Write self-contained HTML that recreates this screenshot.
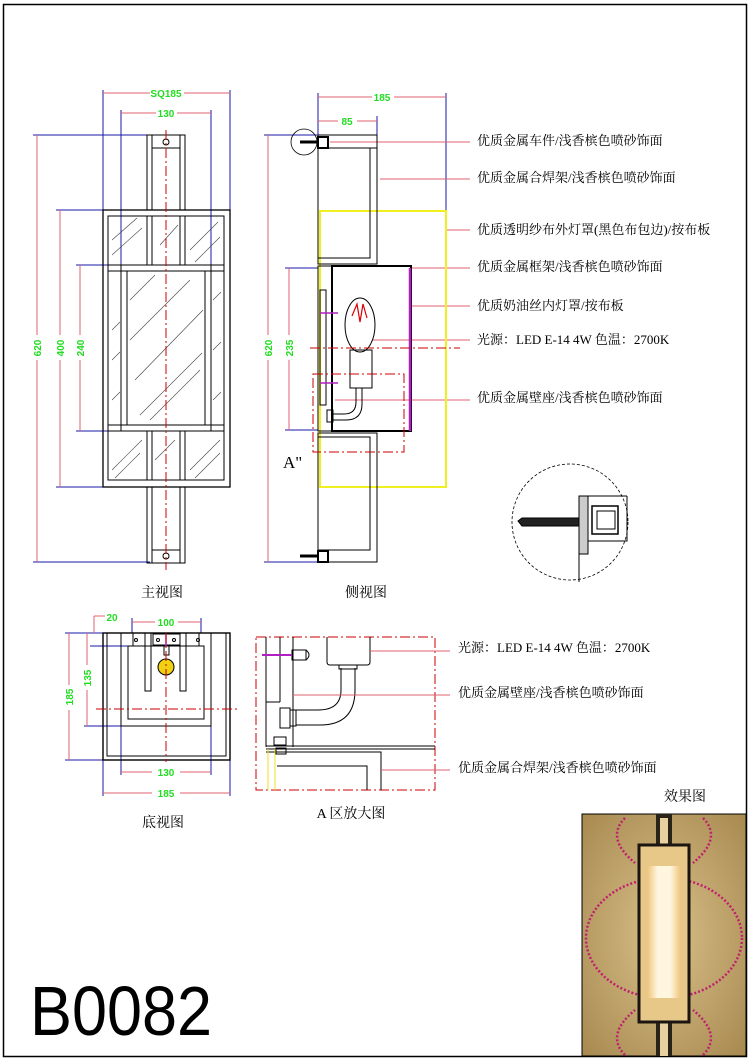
<!DOCTYPE html>
<html><head><meta charset="utf-8"><style>
html,body{margin:0;padding:0;background:#fff;}
svg{display:block;}
.t{font-family:"Liberation Serif","Noto Serif CJK SC",serif;font-size:13px;fill:#000;}
.g{font-family:"Liberation Sans",sans-serif;font-size:10px;fill:#22dd22;font-weight:bold;}
</style></head><body>
<svg width="750" height="1060" viewBox="0 0 750 1060" xmlns="http://www.w3.org/2000/svg">
<rect x="3.5" y="4.5" width="743" height="1052" fill="none" stroke="#000" stroke-width="1.5"/>

<!-- FRONT VIEW -->
<g fill="none" stroke-width="1">
<g stroke="#1a1aa8">
<line x1="103" y1="90" x2="103" y2="210"/><line x1="230" y1="90" x2="230" y2="210"/>
<line x1="121" y1="110" x2="121" y2="265"/><line x1="211" y1="110" x2="211" y2="265"/>
<line x1="33" y1="135" x2="150" y2="135"/><line x1="33" y1="562" x2="150" y2="562"/>
<line x1="56" y1="210" x2="103" y2="210"/><line x1="56" y1="487" x2="103" y2="487"/>
<line x1="76" y1="265" x2="121" y2="265"/><line x1="76" y1="431" x2="121" y2="431"/>
</g>
<g stroke="#e06070">
<line x1="103" y1="93" x2="150" y2="93"/><line x1="184" y1="93" x2="230" y2="93"/>
<line x1="121" y1="113" x2="156" y2="113"/><line x1="177" y1="113" x2="211" y2="113"/>
<line x1="37" y1="135" x2="37" y2="335"/><line x1="37" y1="360" x2="37" y2="562"/>
<line x1="60" y1="210" x2="60" y2="335"/><line x1="60" y1="360" x2="60" y2="487"/>
<line x1="80" y1="265" x2="80" y2="335"/><line x1="80" y1="360" x2="80" y2="431"/>
</g>
<text class="g" x="166" y="97" text-anchor="middle">SQ185</text>
<text class="g" x="166" y="117" text-anchor="middle">130</text>
<text class="g" transform="translate(41,348) rotate(-90)" text-anchor="middle">620</text>
<text class="g" transform="translate(64,348) rotate(-90)" text-anchor="middle">400</text>
<text class="g" transform="translate(84,348) rotate(-90)" text-anchor="middle">240</text>
<g stroke="#000">
<rect x="147" y="135" width="38" height="75"/><line x1="152" y1="135" x2="152" y2="210"/><line x1="180" y1="135" x2="180" y2="210"/><line x1="152" y1="148" x2="180" y2="148"/>
<circle cx="166" cy="142" r="3"/>
<rect x="147" y="487" width="38" height="76"/><line x1="152" y1="487" x2="152" y2="563"/><line x1="180" y1="487" x2="180" y2="563"/><line x1="152" y1="550" x2="180" y2="550"/>
<circle cx="166" cy="556" r="3"/>
<rect x="103" y="210" width="127" height="277" stroke-width="1.3"/>
<rect x="108" y="216" width="116" height="264"/>
<line x1="147" y1="216" x2="147" y2="265"/><line x1="152" y1="216" x2="152" y2="265"/><line x1="180" y1="216" x2="180" y2="265"/><line x1="185" y1="216" x2="185" y2="265"/>
<line x1="147" y1="431" x2="147" y2="480"/><line x1="152" y1="431" x2="152" y2="480"/><line x1="180" y1="431" x2="180" y2="480"/><line x1="185" y1="431" x2="185" y2="480"/>
<line x1="108" y1="265" x2="224" y2="265"/><line x1="108" y1="271" x2="224" y2="271"/>
<line x1="108" y1="431" x2="224" y2="431"/><line x1="108" y1="425" x2="224" y2="425"/>
<rect x="121" y="265" width="90" height="166"/>
<rect x="127" y="271" width="78" height="154"/>
</g>
<g stroke="#444" stroke-width="0.6">
<path d="M112 240 l25 -22 M112 255 l30 -27 M160 245 l18 -20 M190 250 l28 -28 M195 262 l25 -25 M112 330 l8 -8 M112 360 l8 -8 M112 400 l8 -8 M213 300 l8 -8 M213 350 l8 -8 M213 400 l8 -8 M130 300 l25 -25 M130 340 l60 -60 M135 380 l68 -70 M140 415 l62 -62 M150 420 l50 -50 M112 470 l30 -30 M115 478 l25 -25 M155 460 l20 -20 M190 470 l30 -30 M195 478 l25 -25"/>
</g>
<line x1="166" y1="130" x2="166" y2="570" stroke="#c00" stroke-dasharray="10,3,2,3"/>
</g>

<!-- SIDE VIEW -->
<g fill="none" stroke-width="1">
<g stroke="#1a1aa8">
<line x1="318" y1="93" x2="318" y2="135"/><line x1="446" y1="93" x2="446" y2="212"/><line x1="377" y1="116" x2="377" y2="135"/>
<line x1="264" y1="135" x2="318" y2="135"/><line x1="264" y1="562" x2="318" y2="562"/>
<line x1="285" y1="268" x2="318" y2="268"/><line x1="285" y1="430" x2="318" y2="430"/>
</g>
<g stroke="#e06070">
<line x1="318" y1="97" x2="372" y2="97"/><line x1="394" y1="97" x2="446" y2="97"/>
<line x1="318" y1="121" x2="338" y2="121"/><line x1="357" y1="121" x2="377" y2="121"/>
<line x1="268" y1="135" x2="268" y2="335"/><line x1="268" y1="360" x2="268" y2="562"/>
<line x1="289" y1="268" x2="289" y2="335"/><line x1="289" y1="360" x2="289" y2="430"/>
<line x1="330" y1="142" x2="470" y2="142"/>
<line x1="380" y1="179" x2="470" y2="179"/>
<line x1="446" y1="230" x2="470" y2="230"/>
<line x1="410" y1="268" x2="470" y2="268"/>
<line x1="411" y1="306" x2="470" y2="306"/>
<line x1="372" y1="340" x2="470" y2="340"/>
<line x1="335" y1="400" x2="470" y2="400"/>
</g>
<text class="g" x="382" y="101" text-anchor="middle">185</text>
<text class="g" x="347" y="125" text-anchor="middle">85</text>
<text class="g" transform="translate(272,348) rotate(-90)" text-anchor="middle">620</text>
<text class="g" transform="translate(293,348) rotate(-90)" text-anchor="middle">235</text>
<rect x="320" y="211" width="126" height="276" stroke="#f0f020" stroke-width="2"/>
<g stroke="#000">
<path d="M318 135 H377 V264 H318 Z M318 148 H377 M370 148 V258 H318"/>
<path d="M318 433 H377 V562 H318 Z M318 437 H370 V550 H318"/>
<rect x="318" y="266" width="14" height="165"/>
<rect x="332" y="266" width="79" height="165" stroke-width="2"/>
<rect x="320" y="290" width="6" height="115"/>
<ellipse cx="360" cy="325" rx="15" ry="27"/>
<rect x="350" y="350" width="22" height="38"/>
<path d="M356 388 V402 Q356 414 344 414 H333 M362 388 V404 Q362 420 346 420 H333"/>
<rect x="327" y="410" width="6" height="12"/>
<circle cx="304" cy="142" r="13" stroke-width="0.8"/>
<rect x="318" y="137" width="10" height="11" stroke-width="2"/>
<rect x="318" y="551" width="10" height="11" stroke-width="2"/>
</g>
<path d="M352 316 l5 -12 l3 18 l3 -18 l4 14" stroke="#d00" stroke-width="1.2"/>
<line x1="300" y1="142" x2="318" y2="142" stroke="#000" stroke-width="3"/>
<line x1="300" y1="556" x2="318" y2="556" stroke="#000" stroke-width="3"/>
<line x1="410" y1="268" x2="410" y2="431" stroke="#b020c0" stroke-width="2.5"/>
<line x1="320" y1="313" x2="338" y2="313" stroke="#b020c0" stroke-width="1.5"/>
<line x1="320" y1="383" x2="338" y2="383" stroke="#b020c0" stroke-width="1.5"/>
<rect x="313" y="374" width="91" height="78" stroke="#c00" stroke-dasharray="10,3,2,3"/>
<line x1="310" y1="348" x2="460" y2="348" stroke="#c00" stroke-dasharray="10,3,2,3"/>
</g>
<text x="283" y="468" font-family="Liberation Serif,serif" font-size="17">A"</text>

<text class="t" x="477" y="145">优质金属车件/浅香槟色喷砂饰面</text>
<text class="t" x="477" y="182">优质金属合焊架/浅香槟色喷砂饰面</text>
<text class="t" x="477" y="234">优质透明纱布外灯罩(黑色布包边)/按布板</text>
<text class="t" x="477" y="271">优质金属框架/浅香槟色喷砂饰面</text>
<text class="t" x="477" y="310">优质奶油丝内灯罩/按布板</text>
<text class="t" x="477" y="344">光源：LED E-14 4W 色温：2700K</text>
<text class="t" x="477" y="402">优质金属壁座/浅香槟色喷砂饰面</text>

<!-- detail circle -->
<g fill="none" stroke="#000">
<circle cx="570" cy="522" r="58" stroke-dasharray="3,2" stroke-width="0.8"/>
<rect x="579" y="496" width="9" height="58" fill="#ccc"/>
<path d="M588 496 H627 M588 554 H579 V582 M588 541 H627 V496"/>
<rect x="592" y="506" width="26" height="28" stroke-width="1.5"/>
<rect x="597" y="511" width="18" height="18"/>
<path d="M518 521 L522 518 H579 V526 H522 Z" fill="#222"/>
</g>

<!-- BOTTOM VIEW -->
<g fill="none" stroke-width="1">
<g stroke="#1a1aa8">
<line x1="65" y1="633" x2="103" y2="633"/><line x1="65" y1="760" x2="103" y2="760"/>
<line x1="84" y1="633" x2="103" y2="633"/><line x1="84" y1="726" x2="121" y2="726"/>
<line x1="90" y1="646" x2="128" y2="646"/>
<line x1="132" y1="618" x2="132" y2="633"/><line x1="201" y1="618" x2="201" y2="633"/>
<line x1="121" y1="726" x2="121" y2="775"/><line x1="211" y1="726" x2="211" y2="775"/>
<line x1="103" y1="760" x2="103" y2="796"/><line x1="230" y1="760" x2="230" y2="796"/>
</g>
<g stroke="#e06070">
<line x1="69" y1="633" x2="69" y2="685"/><line x1="69" y1="710" x2="69" y2="760"/>
<line x1="87" y1="633" x2="87" y2="665"/><line x1="87" y1="690" x2="87" y2="726"/>
<line x1="94" y1="616" x2="105" y2="616"/><line x1="94" y1="616" x2="94" y2="633"/>
<line x1="132" y1="622" x2="155" y2="622"/><line x1="178" y1="622" x2="201" y2="622"/>
<line x1="121" y1="772" x2="152" y2="772"/><line x1="180" y1="772" x2="211" y2="772"/>
<line x1="103" y1="793" x2="152" y2="793"/><line x1="180" y1="793" x2="230" y2="793"/>
</g>
<text class="g" x="112" y="621" text-anchor="middle">20</text>
<text class="g" x="166" y="626" text-anchor="middle">100</text>
<text class="g" x="166" y="776" text-anchor="middle">130</text>
<text class="g" x="166" y="797" text-anchor="middle">185</text>
<text class="g" transform="translate(73,697) rotate(-90)" text-anchor="middle">185</text>
<text class="g" transform="translate(91,678) rotate(-90)" text-anchor="middle">135</text>
<g stroke="#000">
<rect x="103" y="633" width="127" height="127" stroke-width="1.4"/>
<rect x="107" y="633" width="119" height="123"/>
<path d="M121 633 V726 H211 V633"/>
<rect x="128" y="646" width="76" height="73"/>
<line x1="133" y1="633" x2="133" y2="646"/><line x1="199" y1="633" x2="199" y2="646"/>
<rect x="145" y="633" width="6" height="58"/><rect x="180" y="633" width="6" height="58"/>
<rect x="153" y="634" width="27" height="11"/>
<circle cx="158" cy="640" r="1.5"/><circle cx="174" cy="640" r="1.5"/><circle cx="136" cy="640" r="1.5"/><circle cx="198" cy="640" r="1.5"/>
<rect x="164" y="645" width="5" height="10"/>
</g>
<line x1="166" y1="635" x2="166" y2="646" stroke="#b020c0" stroke-width="1.5"/>
<circle cx="166" cy="667" r="8" fill="#f0d010" stroke="#000"/>
<line x1="96" y1="709" x2="238" y2="709" stroke="#c00" stroke-dasharray="10,3,2,3"/>
<line x1="166" y1="633" x2="166" y2="762" stroke="#c00" stroke-dasharray="10,3,2,3"/>
</g>

<!-- DETAIL A -->
<g fill="none" stroke-width="1">
<rect x="256" y="637" width="179" height="153" stroke="#c00" stroke-dasharray="10,3,2,3"/>
<g stroke="#000">
<path d="M327 637 V662 Q327 665 330 665 H367 Q370 665 370 662 V637"/>
<path d="M341 668 V690 Q341 710 318 710 H296 M355 668 V690 Q355 725 320 725 H296"/>
<rect x="339" y="665" width="18" height="4"/>
<line x1="266" y1="637" x2="266" y2="747"/><line x1="280" y1="637" x2="280" y2="702"/><line x1="266" y1="702" x2="280" y2="702"/>
<line x1="293" y1="637" x2="293" y2="747"/>
<rect x="280" y="708" width="10" height="20"/><rect x="290" y="710" width="6" height="16"/>
<rect x="292" y="650" width="14" height="10"/><path d="M306 650 q6 5 0 10"/>
<line x1="266" y1="746" x2="435" y2="746"/><line x1="266" y1="749" x2="435" y2="749"/>
<path d="M266 752 H381 V790 M277 766 H367 V790"/>
<rect x="274" y="737" width="12" height="8"/><rect x="276" y="748" width="10" height="6"/>
</g>
<line x1="262" y1="655" x2="292" y2="655" stroke="#b020c0" stroke-width="2"/>
<line x1="268" y1="749" x2="268" y2="790" stroke="#f0e020"/><line x1="275" y1="749" x2="275" y2="790" stroke="#f0e020"/>
<g stroke="#e06070">
<line x1="370" y1="651" x2="450" y2="651"/>
<line x1="293" y1="695" x2="450" y2="695"/>
<line x1="381" y1="770" x2="450" y2="770"/>
</g>
</g>
<text class="t" x="458" y="652">光源：LED E-14 4W 色温：2700K</text>
<text class="t" x="458" y="697">优质金属壁座/浅香槟色喷砂饰面</text>
<text class="t" x="458" y="772">优质金属合焊架/浅香槟色喷砂饰面</text>

<text class="t" x="162" y="597" text-anchor="middle" style="font-size:14px">主视图</text>
<text class="t" x="366" y="597" text-anchor="middle" style="font-size:14px">侧视图</text>
<text class="t" x="163" y="827" text-anchor="middle" style="font-size:14px">底视图</text>
<text class="t" x="351" y="818" text-anchor="middle" style="font-size:14px">A 区放大图</text>
<text class="t" x="685" y="801" text-anchor="middle" style="font-size:14px">效果图</text>

<!-- effect photo -->
<defs>
<radialGradient id="bg" cx="0.5" cy="0.5" r="0.7"><stop offset="0" stop-color="#d8c08a"/><stop offset="1" stop-color="#a88a50"/></radialGradient>
<linearGradient id="lt" x1="0" x2="1"><stop offset="0" stop-color="#f0c880"/><stop offset="0.3" stop-color="#fff6e0"/><stop offset="0.7" stop-color="#fff6e0"/><stop offset="1" stop-color="#f0c880"/></linearGradient>
</defs>
<rect x="582" y="814" width="164" height="242" fill="url(#bg)" stroke="#000"/>
<g fill="none" stroke="#c02070" stroke-width="2.5" stroke-dasharray="2,2">
<ellipse cx="664" cy="938" rx="78" ry="60"/>
<path d="M625 818 q-20 20 10 45 M703 818 q20 20 -10 45 M625 1055 q-20 -20 10 -45 M703 1055 q20 -20 -10 -45"/>
</g>
<rect x="656" y="814" width="16" height="32" fill="#2a2418"/>
<rect x="660" y="818" width="8" height="28" fill="#e8d0a0"/>
<rect x="656" y="1020" width="16" height="36" fill="#2a2418"/>
<rect x="660" y="1022" width="8" height="34" fill="#e8d0a0"/>
<rect x="639" y="845" width="50" height="177" fill="#e8c888" stroke="#1a1510" stroke-width="3"/>
<rect x="648" y="866" width="32" height="132" fill="url(#lt)"/>

<text x="30" y="1035" font-family="Liberation Sans,sans-serif" font-size="70" textLength="182" lengthAdjust="spacingAndGlyphs" fill="#000">B0082</text>
</svg>
</body></html>
